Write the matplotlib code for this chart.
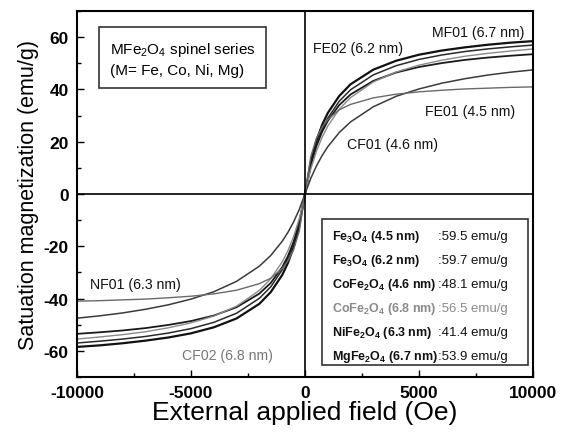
import numpy as np
import matplotlib
matplotlib.use("Agg")
import matplotlib.pyplot as plt
from matplotlib.ticker import MultipleLocator
from matplotlib.patches import Rectangle

plt.rcParams['font.family'] = ['Liberation Sans', 'DejaVu Sans']
plt.rcParams['mathtext.fontset'] = 'custom'
plt.rcParams['mathtext.rm'] = 'Liberation Sans'
plt.rcParams['mathtext.default'] = 'regular'
plt.rcParams['axes.unicode_minus'] = False

# Field values (Oe), positive branch; curves are symmetric (M(-H) = -M(H))
field = [0, 250, 500, 750, 1000, 1500, 2000, 3000, 4000, 5000, 6000, 7000, 8000, 9000, 10000]

m_fe02 = [0, 12.1, 20.4, 26.4, 31.0, 37.5, 42.0, 47.6, 51.0, 53.3, 54.9, 56.1, 57.1, 57.9, 58.5]
m_fe01 = [0, 11.0, 18.8, 24.5, 29.0, 35.5, 39.9, 45.6, 49.1, 51.5, 53.2, 54.5, 55.5, 56.3, 57.0]
m_mf01 = [0, 10.8, 18.3, 23.8, 28.0, 34.0, 38.1, 43.3, 46.5, 48.6, 50.1, 51.3, 52.2, 52.9, 53.5]
m_cf02 = [0, 9.4, 16.3, 21.7, 26.0, 32.4, 36.9, 42.9, 46.7, 49.3, 51.2, 52.7, 53.8, 54.7, 55.5]
m_cf01 = [0, 5.9, 10.7, 14.7, 18.1, 23.5, 27.6, 33.4, 37.4, 40.2, 42.4, 44.1, 45.5, 46.6, 47.5]
m_nf01 = [0, 14.2, 21.3, 25.6, 28.5, 32.2, 34.3, 36.8, 38.2, 39.1, 39.7, 40.2, 40.5, 40.8, 41.0]

series = [m_fe02, m_fe01, m_mf01, m_cf02, m_cf01, m_nf01]
series_colors = ['#111111', '#2a2a2a', '#1a1a1a', '#8a8a8a', '#3a3a3a', '#6a6a6a']
series_widths = [1.6, 1.1, 1.3, 1.0, 1.1, 1.0]

curve_labels = ['FE02 (6.2 nm)', 'FE01 (4.5 nm)', 'MF01 (6.7 nm)', 'CF02 (6.8 nm)', 'CF01 (4.6 nm)', 'NF01 (6.3 nm)']
label_pos = [(350, 55.9), (5263, 31.6), (5570, 62.0), (-5395, -61.6), (1842, 19.0), (-9430, -34.6)]
label_colors = ['#111111', '#111111', '#111111', '#777777', '#111111', '#111111']

legend_names = [r'Fe$_3$O$_4$ (4.5 nm)', r'Fe$_3$O$_4$ (6.2 nm)', r'CoFe$_2$O$_4$ (4.6 nm)',
                r'CoFe$_2$O$_4$ (6.8 nm)', r'NiFe$_2$O$_4$ (6.3 nm)', r'MgFe$_2$O$_4$ (6.7 nm)']
legend_values = [':59.5 emu/g', ':59.7 emu/g', ':48.1 emu/g', ':56.5 emu/g', ':41.4 emu/g', ':53.9 emu/g']
legend_colors = ['#111111', '#111111', '#111111', '#8a8a8a', '#111111', '#111111']

fig = plt.figure(figsize=(5.64, 4.39), dpi=100)
ax = fig.add_axes([0.1365, 0.139, 0.8085, 0.8335])

H = np.array(field, dtype=float)
Hfull = np.concatenate((-H[::-1], H[1:]))
for m, c, lw in zip(series, series_colors, series_widths):
    M = np.array(m, dtype=float)
    Mfull = np.concatenate((-M[::-1], M[1:]))
    ax.plot(Hfull, Mfull, color=c, lw=lw)

ax.axhline(0, color='black', lw=1.2)
ax.axvline(0, color='black', lw=1.2)

ax.set_xlim(-10000, 10000)
ax.set_ylim(-70, 70)
ax.xaxis.set_major_locator(MultipleLocator(5000))
ax.xaxis.set_minor_locator(MultipleLocator(2500))
ax.yaxis.set_major_locator(MultipleLocator(20))
ax.yaxis.set_minor_locator(MultipleLocator(10))
ax.tick_params(which='both', direction='in', top=False, right=False)
ax.tick_params(which='major', length=5, width=1.0, labelsize=12.5, pad=6)
ax.tick_params(which='minor', length=3, width=1.0)
for lab in ax.get_xticklabels() + ax.get_yticklabels():
    lab.set_fontweight('bold')
for s in ax.spines.values():
    s.set_linewidth(1.5)

ax.set_xlabel('External applied field (Oe)', fontsize=19, labelpad=0)
ax.set_ylabel('Satuation magnetization (emu/g)', fontsize=15.5, labelpad=3)

for txt, (x, y), c in zip(curve_labels, label_pos, label_colors):
    ax.text(x, y, txt, fontsize=10.2, color=c, ha='left', va='center')

# Series title box (top-left)
ax.text(0.072, 0.87, 'MFe$_2$O$_4$ spinel series\n(M= Fe, Co, Ni, Mg)', transform=ax.transAxes,
        fontsize=11, ha='left', va='center', linespacing=1.5,
        bbox=dict(boxstyle='square,pad=0.7', fc='white', ec='#333333', lw=1.2))

# Ms table box (bottom-right)
ax.add_patch(Rectangle((0.537, 0.033), 0.451, 0.4, transform=ax.transAxes,
                       fc='white', ec='#333333', lw=1.2, zorder=3))
y0 = 0.386
dy = 0.0655
for i, (nm, val, c) in enumerate(zip(legend_names, legend_values, legend_colors)):
    yy = y0 - i * dy
    ax.text(0.56, yy, nm, transform=ax.transAxes, fontsize=9, fontweight='bold',
            color=c, ha='left', va='center', zorder=4)
    ax.text(0.792, yy, val, transform=ax.transAxes, fontsize=9.5,
            color=c, ha='left', va='center', zorder=4)

fig.savefig('out.png', dpi=100)
